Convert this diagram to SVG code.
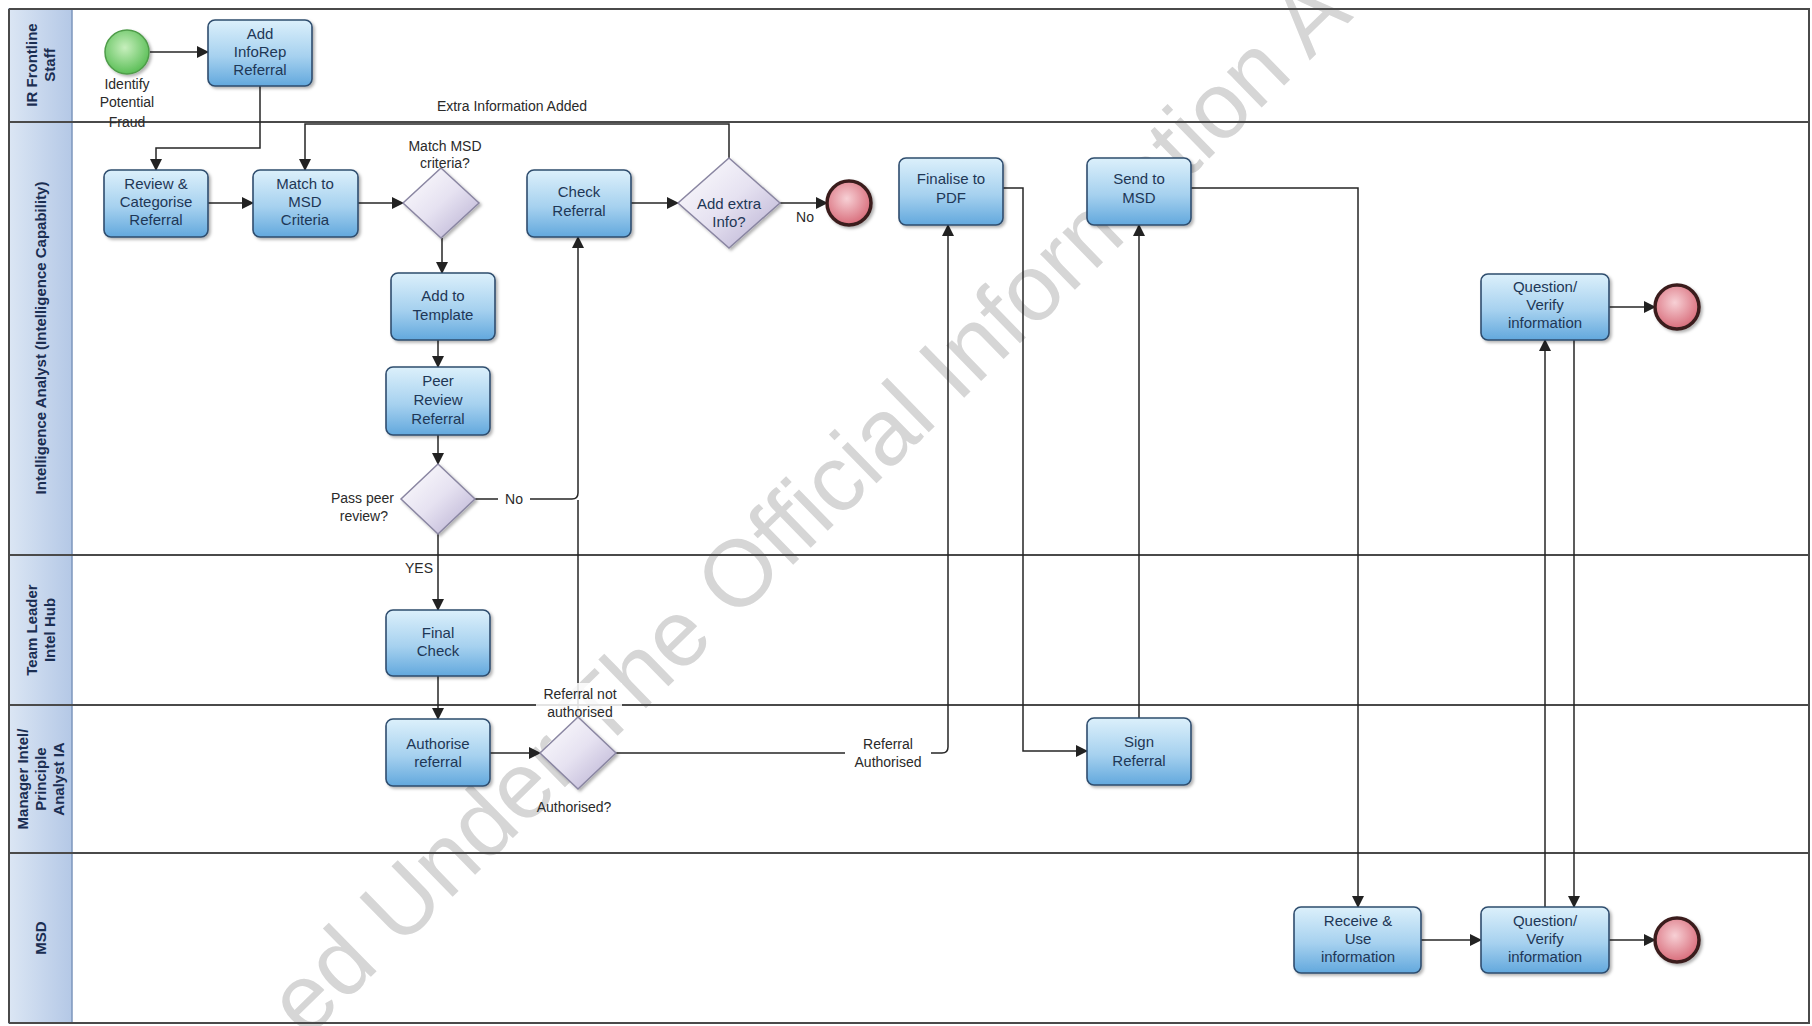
<svg xmlns="http://www.w3.org/2000/svg" width="1812" height="1026" viewBox="0 0 1812 1026">
<defs>
<linearGradient id="gBox2" x1="0" y1="0" x2="0" y2="1">
<stop offset="0" stop-color="#dcf0fb"/>
<stop offset="0.55" stop-color="#a6d1ef"/>
<stop offset="1" stop-color="#62a8dd"/>
</linearGradient>
<linearGradient id="gDia" x1="0" y1="0" x2="1" y2="1">
<stop offset="0" stop-color="#ffffff"/>
<stop offset="0.5" stop-color="#e6e2f1"/>
<stop offset="1" stop-color="#b5acd0"/>
</linearGradient>
<linearGradient id="gHead" x1="0" y1="0" x2="1" y2="0">
<stop offset="0" stop-color="#dbe6f4"/>
<stop offset="1" stop-color="#b4c8e6"/>
</linearGradient>
<radialGradient id="gEnd" cx="0.45" cy="0.4" r="0.6">
<stop offset="0" stop-color="#f7d0d5"/>
<stop offset="1" stop-color="#d86c7a"/>
</radialGradient>
<radialGradient id="gStart" cx="0.45" cy="0.4" r="0.6">
<stop offset="0" stop-color="#c7efbd"/>
<stop offset="1" stop-color="#5cbf58"/>
</radialGradient>
<filter id="sh" x="-20%" y="-20%" width="150%" height="150%">
<feDropShadow dx="2" dy="2" stdDeviation="1.5" flood-color="#000" flood-opacity="0.3"/>
</filter>
<marker id="arr" markerWidth="12" markerHeight="12" refX="11" refY="6" orient="auto" markerUnits="userSpaceOnUse">
<path d="M0,0 L12,6 L0,12 z" fill="#222"/>
</marker>
</defs>
<style>
.lane{fill:none;stroke:#4a4a4a;stroke-width:2}
.head{fill:url(#gHead);stroke:#7d96bd;stroke-width:1.5}
.ht{font-family:"Liberation Sans",Arial,sans-serif;font-weight:bold;font-size:15px;fill:#1b2e52;text-anchor:middle}
.box{fill:url(#gBox2);stroke:#2f4d6e;stroke-width:1.6;filter:url(#sh)}
.dia{fill:url(#gDia);stroke:#8a86a2;stroke-width:1.5;filter:url(#sh)}
.bt{font-family:"Liberation Sans",Arial,sans-serif;font-size:15px;fill:#1e3756;text-anchor:middle}
.lb{font-family:"Liberation Sans",Arial,sans-serif;font-size:14px;fill:#2a2a2a;text-anchor:middle}
.lbe{font-family:"Liberation Sans",Arial,sans-serif;font-size:14px;fill:#2a2a2a;text-anchor:end}
.con{fill:none;stroke:#262626;stroke-width:1.5}
.arw{marker-end:url(#arr)}
.endc{fill:url(#gEnd);stroke:#3a1e1e;stroke-width:3.5;filter:url(#sh)}
.startc{fill:url(#gStart);stroke:#4f9c4a;stroke-width:1.5;filter:url(#sh)}
.wm{font-family:"Liberation Sans",Arial,sans-serif;font-size:94px;fill:#d6d6d6}
</style>
<rect x="0" y="0" width="1812" height="1026" fill="#ffffff"/>

<!-- watermark -->
<text class="wm" transform="translate(306,1040) rotate(-44.3)">ed Under The Official Information A</text>

<!-- lanes -->
<g id="lanes">
<rect class="head" x="9" y="9" width="63" height="113"/>
<rect class="head" x="9" y="122" width="63" height="433"/>
<rect class="head" x="9" y="555" width="63" height="150"/>
<rect class="head" x="9" y="705" width="63" height="148"/>
<rect class="head" x="9" y="853" width="63" height="170"/>
<line class="lane" x1="9" y1="9" x2="1810" y2="9"/>
<line class="lane" x1="9" y1="122" x2="1810" y2="122"/>
<line class="lane" x1="9" y1="555" x2="1810" y2="555"/>
<line class="lane" x1="9" y1="705" x2="1810" y2="705"/>
<line class="lane" x1="9" y1="853" x2="1810" y2="853"/>
<line class="lane" x1="9" y1="1023" x2="1810" y2="1023"/>
<line class="lane" x1="1809" y1="9" x2="1809" y2="1023"/>
<line class="lane" x1="9" y1="9" x2="9" y2="1023"/>
<text class="ht" transform="translate(40,65) rotate(-90)"><tspan x="0" dy="-3">IR Frontline</tspan><tspan x="0" dy="18">Staff</tspan></text>
<text class="ht" transform="translate(46,338) rotate(-90)">Intelligence Analyst (Intelligence Capability)</text>
<text class="ht" transform="translate(40,630) rotate(-90)"><tspan x="0" dy="-3">Team Leader</tspan><tspan x="0" dy="18">Intel Hub</tspan></text>
<text class="ht" transform="translate(40,779) rotate(-90)"><tspan x="0" dy="-12">Manager Intel/</tspan><tspan x="0" dy="18">Principle</tspan><tspan x="0" dy="18">Analyst IA</tspan></text>
<text class="ht" transform="translate(46,938) rotate(-90)">MSD</text>
</g>

<!-- connectors -->
<g id="connectors">
<path class="con arw" d="M150,52 H208"/>
<path class="con arw" d="M260,86 V148 H156 V170"/>
<path class="con arw" d="M729,158 V124 H305 V170"/>
<path class="con arw" d="M208,203 H253"/>
<path class="con arw" d="M358,203 H403"/>
<path class="con arw" d="M442,238 V273"/>
<path class="con arw" d="M438,340 V367"/>
<path class="con arw" d="M438,435 V464"/>
<path class="con arw" d="M475,499 H572 Q578,499 578,493 V237"/>
<path class="con" d="M578,717 V500"/>
<path class="con arw" d="M438,534 V610"/>
<path class="con arw" d="M438,676 V719"/>
<path class="con arw" d="M490,753 H540"/>
<path class="con arw" d="M616,753 H942 Q948,753 948,747 V225"/>
<path class="con arw" d="M1003,188 H1023 V751 H1087"/>
<path class="con arw" d="M1139,718 V225"/>
<path class="con arw" d="M1191,188 H1358 V907"/>
<path class="con arw" d="M1421,940 H1481"/>
<path class="con arw" d="M1609,940 H1655"/>
<path class="con arw" d="M1545,907 V340"/>
<path class="con arw" d="M1574,340 V907"/>
<path class="con arw" d="M1609,307 H1655"/>
<path class="con arw" d="M631,203 H678"/>
<path class="con arw" d="M780,203 H827"/>
<rect x="498" y="489" width="32" height="18" fill="#fff"/>
<text class="lb" x="514" y="504">No</text>
<rect x="404" y="559" width="30" height="16" fill="#fff"/>
<text class="lb" x="419" y="573">YES</text>
<text class="lb" x="512" y="111">Extra Information Added</text>
<text class="lb" x="805" y="222">No</text>
<rect x="845" y="733" width="86" height="38" fill="#fff"/>
<text class="lb" x="888" y="749">Referral</text>
<text class="lb" x="888" y="767">Authorised</text>
<rect x="536" y="683" width="86" height="36" fill="#fff" opacity="0.85"/>
<text class="lb" x="580" y="699">Referral not</text>
<text class="lb" x="580" y="717">authorised</text>
<text class="lb" x="574" y="812">Authorised?</text>
</g>

<!-- nodes -->
<g id="start">
<circle class="startc" cx="127" cy="52" r="22"/>
<text class="lb" x="127" y="89">Identify</text>
<text class="lb" x="127" y="107">Potential</text>
<text class="lb" x="127" y="127">Fraud</text>
</g>
<g id="addInfoRep">
<rect class="box" x="208" y="20" width="104" height="66" rx="7"/>
<text class="bt" x="260" y="39">Add</text><text class="bt" x="260" y="57">InfoRep</text><text class="bt" x="260" y="75">Referral</text>
</g>
<g id="review">
<rect class="box" x="104" y="170" width="104" height="67" rx="7"/>
<text class="bt" x="156" y="189">Review &amp;</text><text class="bt" x="156" y="207">Categorise</text><text class="bt" x="156" y="225">Referral</text>
</g>
<g id="matchTo">
<rect class="box" x="253" y="170" width="105" height="67" rx="7"/>
<text class="bt" x="305" y="189">Match to</text><text class="bt" x="305" y="207">MSD</text><text class="bt" x="305" y="225">Criteria</text>
</g>
<g id="matchDia">
<polygon class="dia" points="441,168 479,203 441,238 403,203"/>
<text class="lb" x="445" y="151">Match MSD</text>
<text class="lb" x="445" y="168">criteria?</text>
</g>
<g id="template">
<rect class="box" x="391" y="273" width="104" height="67" rx="7"/>
<text class="bt" x="443" y="301">Add to</text><text class="bt" x="443" y="320">Template</text>
</g>
<g id="peer">
<rect class="box" x="386" y="367" width="104" height="68" rx="7"/>
<text class="bt" x="438" y="386">Peer</text><text class="bt" x="438" y="405">Review</text><text class="bt" x="438" y="424">Referral</text>
</g>
<g id="passDia">
<polygon class="dia" points="438,464 475,499 438,534 401,499"/>
<text class="lbe" x="394" y="503">Pass peer</text>
<text class="lbe" x="388" y="521">review?</text>
</g>
<g id="check">
<rect class="box" x="527" y="170" width="104" height="67" rx="7"/>
<text class="bt" x="579" y="197">Check</text><text class="bt" x="579" y="216">Referral</text>
</g>
<g id="extraDia">
<polygon class="dia" points="729,158 780,203 729,248 678,203"/>
<text class="bt" x="729" y="209">Add extra</text><text class="bt" x="729" y="227">Info?</text>
</g>
<g id="end1"><circle class="endc" cx="849" cy="203" r="22"/></g>
<g id="finalise">
<rect class="box" x="899" y="158" width="104" height="67" rx="7"/>
<text class="bt" x="951" y="184">Finalise to</text><text class="bt" x="951" y="203">PDF</text>
</g>
<g id="send">
<rect class="box" x="1087" y="158" width="104" height="67" rx="7"/>
<text class="bt" x="1139" y="184">Send to</text><text class="bt" x="1139" y="203">MSD</text>
</g>
<g id="qvIA">
<rect class="box" x="1481" y="274" width="128" height="66" rx="7"/>
<text class="bt" x="1545" y="292">Question/</text><text class="bt" x="1545" y="310">Verify</text><text class="bt" x="1545" y="328">information</text>
</g>
<g id="end2"><circle class="endc" cx="1677" cy="307" r="22"/></g>
<g id="final">
<rect class="box" x="386" y="610" width="104" height="66" rx="7"/>
<text class="bt" x="438" y="638">Final</text><text class="bt" x="438" y="656">Check</text>
</g>
<g id="authorise">
<rect class="box" x="386" y="719" width="104" height="67" rx="7"/>
<text class="bt" x="438" y="749">Authorise</text><text class="bt" x="438" y="767">referral</text>
</g>
<g id="authDia">
<polygon class="dia" points="578,717 616,753 578,789 540,753"/>
</g>
<g id="sign">
<rect class="box" x="1087" y="718" width="104" height="67" rx="7"/>
<text class="bt" x="1139" y="747">Sign</text><text class="bt" x="1139" y="766">Referral</text>
</g>
<g id="receive">
<rect class="box" x="1294" y="907" width="127" height="66" rx="7"/>
<text class="bt" x="1358" y="926">Receive &amp;</text><text class="bt" x="1358" y="944">Use</text><text class="bt" x="1358" y="962">information</text>
</g>
<g id="qvMSD">
<rect class="box" x="1481" y="907" width="128" height="66" rx="7"/>
<text class="bt" x="1545" y="926">Question/</text><text class="bt" x="1545" y="944">Verify</text><text class="bt" x="1545" y="962">information</text>
</g>
<g id="end3"><circle class="endc" cx="1677" cy="940" r="22"/></g>
</svg>
